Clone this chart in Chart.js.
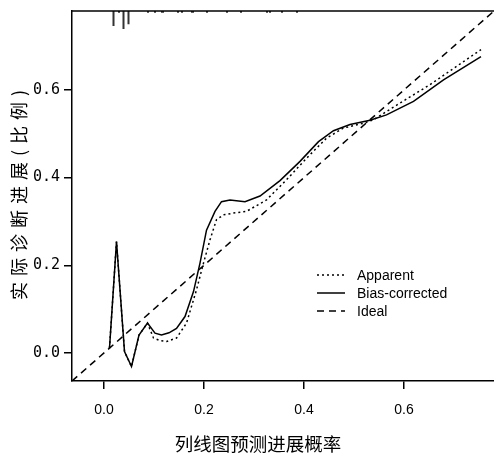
<!DOCTYPE html>
<html>
<head>
<meta charset="utf-8">
<script src="https://cdn.jsdelivr.net/npm/chart.js@4.4.0/dist/chart.umd.min.js"></script>
<style>
  html, body { margin: 0; padding: 0; background: #fff; }
</style>
</head>
<body>
<canvas id="calib" width="494" height="454"></canvas>
<script>
// calibration curve
const biasX = [0.011, 0.025, 0.041, 0.055, 0.070, 0.087, 0.102, 0.115, 0.130, 0.145, 0.162, 0.179, 0.192, 0.205, 0.222, 0.235, 0.252, 0.282, 0.312, 0.352, 0.392, 0.429, 0.459, 0.492, 0.532, 0.565, 0.619, 0.679, 0.754];
const biasY = [0.011, 0.254, 0.003, -0.031, 0.041, 0.068, 0.045, 0.041, 0.046, 0.056, 0.083, 0.140, 0.205, 0.280, 0.323, 0.345, 0.349, 0.345, 0.358, 0.393, 0.437, 0.482, 0.507, 0.521, 0.531, 0.543, 0.574, 0.623, 0.676];

const appX = [0.011, 0.025, 0.041, 0.055, 0.070, 0.087, 0.099, 0.112, 0.125, 0.145, 0.165, 0.185, 0.199, 0.212, 0.225, 0.239, 0.259, 0.285, 0.325, 0.365, 0.405, 0.445, 0.479, 0.519, 0.539, 0.592, 0.652, 0.754];
const appY = [0.011, 0.254, 0.003, -0.031, 0.041, 0.068, 0.034, 0.028, 0.026, 0.034, 0.068, 0.144, 0.205, 0.258, 0.304, 0.315, 0.319, 0.323, 0.349, 0.395, 0.444, 0.490, 0.513, 0.524, 0.532, 0.570, 0.612, 0.692];

const idealX = [-0.064, 0.78];

// spike histogram of predictions along the top
const rugX = [0.019, 0.030, 0.039, 0.049, 0.088, 0.102, 0.116, 0.118, 0.148, 0.156, 0.176, 0.178, 0.206, 0.246, 0.274, 0.326, 0.332, 0.356, 0.386];
const rugH = [0.034, 0.004, 0.041, 0.030, 0.004, 0.004, 0.004, 0.004, 0.004, 0.004, 0.004, 0.004, 0.004, 0.004, 0.004, 0.004, 0.004, 0.004, 0.004];

const xTicks = [0, 0.2, 0.4, 0.6];
const yTicks = [0, 0.2, 0.4, 0.6];
const legendNames = ['Apparent', 'Bias-corrected', 'Ideal'];
const xTitle = '列线图预测进展概率';
const yTitle = '实际诊断进展(比例)';

const lo = -0.064, hi = 0.78;

const pts = (xs, ys) => xs.map((x, i) => ({ x: x, y: ys[i] }));

let rugPts = [];
rugX.forEach((x, i) => {
  rugPts.push({ x: x, y: hi });
  rugPts.push({ x: x, y: hi - rugH[i] });
  rugPts.push({ x: x, y: null });
});

const extras = {
  id: 'extras',
  afterDraw(chart) {
    const ctx = chart.ctx;
    const a = chart.chartArea;
    ctx.save();
    // top of box
    ctx.strokeStyle = '#000';
    ctx.lineWidth = 1.5;
    ctx.beginPath();
    ctx.moveTo(a.left, a.top);
    ctx.lineTo(a.right, a.top);
    ctx.stroke();

    // legend
    const ys = [275, 293, 311];
    ctx.font = '14px "Liberation Sans", Arial, sans-serif';
    ctx.textBaseline = 'middle';
    ctx.fillStyle = '#000';
    legendNames.forEach((name, i) => {
      const ds = chart.data.datasets[i];
      ctx.setLineDash(ds.borderDash || []);
      ctx.lineWidth = ds.borderWidth;
      ctx.beginPath();
      ctx.moveTo(317, ys[i]);
      ctx.lineTo(345, ys[i]);
      ctx.stroke();
      ctx.setLineDash([]);
      ctx.fillText(name, 357, ys[i] + 1);
    });

    // axis titles
    ctx.font = '18.5px "Noto Sans CJK SC", sans-serif';
    ctx.textAlign = 'center';
    ctx.fillText(xTitle, 258, 444);
    ctx.translate(19, 192);
    ctx.rotate(-Math.PI / 2);
    ctx.font = '18px "Noto Sans CJK SC", sans-serif';
    ctx.letterSpacing = '6px';
    ctx.fillText(yTitle, 0, 0);
    ctx.restore();
  }
};

const chart = new Chart(document.getElementById('calib'), {
  type: 'line',
  data: {
    datasets: [{
      label: legendNames[0],
      data: pts(appX, appY),
      borderColor: '#000',
      borderWidth: 1.5,
      borderDash: [2, 3],
      pointRadius: 0,
      tension: 0
    }, {
      label: legendNames[1],
      data: pts(biasX, biasY),
      borderColor: '#000',
      borderWidth: 1.5,
      pointRadius: 0,
      tension: 0
    }, {
      label: legendNames[2],
      data: pts(idealX, idealX),
      borderColor: '#000',
      borderWidth: 1.5,
      borderDash: [7, 5],
      pointRadius: 0
    }, {
      label: 'rug',
      data: rugPts,
      borderColor: '#333',
      borderWidth: 2,
      pointRadius: 0,
      spanGaps: false
    }]
  },
  options: {
    responsive: false,
    animation: false,
    layout: { padding: { top: 11, right: 0, left: 0, bottom: 0 } },
    plugins: { legend: { display: false }, tooltip: { enabled: false } },
    scales: {
      x: {
        type: 'linear',
        min: lo,
        max: hi,
        afterBuildTicks: s => { s.ticks = xTicks.map(v => ({ value: v })); },
        afterFit: s => { s.height = 73; s.paddingLeft = 0; s.paddingRight = 0; },
        grid: { drawOnChartArea: false, drawTicks: true, tickLength: 8, color: '#000', lineWidth: 1.5 },
        border: { display: true, color: '#000', width: 1.5 },
        ticks: {
          color: '#000',
          padding: 13,
          font: { family: '"Liberation Sans", Arial, sans-serif', size: 14 },
          callback: v => v.toFixed(1)
        }
      },
      y: {
        type: 'linear',
        min: lo,
        max: hi,
        afterBuildTicks: s => { s.ticks = yTicks.map(v => ({ value: v })); },
        afterFit: s => { s.width = 72; s.paddingTop = 0; s.paddingBottom = 0; },
        grid: { drawOnChartArea: false, drawTicks: true, tickLength: 8, color: '#000', lineWidth: 1.5 },
        border: { display: true, color: '#000', width: 1.5 },
        ticks: {
          color: '#000',
          padding: 4,
          font: { family: '"DejaVu Sans Mono", monospace', size: 15 },
          callback: v => v.toFixed(1)
        }
      }
    }
  },
  plugins: [extras]
});
</script>
</body>
</html>
